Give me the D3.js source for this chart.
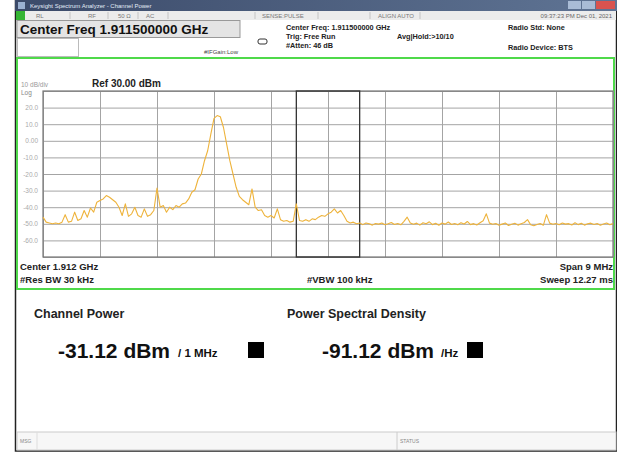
<!DOCTYPE html>
<html>
<head>
<meta charset="utf-8">
<script src="https://cdn.jsdelivr.net/npm/d3@7"></script>
<style>
  body { margin: 0; background: #fff; }
  text { font-family: "Liberation Sans", Arial, sans-serif; }
</style>
</head>
<body>
<svg id="chart"></svg>
<script>
// sweep: 1907 MHz .. 1916 MHz, one reading every 0.05 MHz
const startMHz = 1907;
const stepMHz = 0.05;
const traceDbm = [
  -46, -49, -49.5, -50, -49.5, -50, -49,
  -44.5, -49, -48.5, -43, -48, -47,
  -42, -46, -40.5, -43, -37,
  -36, -35, -33, -34, -35.5, -37, -40,
  -45, -38, -45.5, -44, -40, -45, -46, -41, -45.5, -44.5, -42, -28.5,
  -40, -39, -43, -40, -41.5, -39, -40, -38, -37.5,
  -35, -31, -29.5, -23, -20, -12, -6, 4, 13.5, 15.2, 14.5, 8, -2, -12, -20, -28, -33.5, -35.5, -37, -38.5,
  -29, -40, -42, -41.5, -45, -46, -45, -46.5, -41, -47.5, -48.5, -48, -49, -48.5,
  -38, -48, -48.5, -47.5, -48.5, -47, -47.5, -46, -45, -45.5, -44, -43, -41, -43.5, -42, -45,
  -48.5, -49.5, -49, -50, -49.5,
  -50.5, -49.5, -50, -50.8, -49.8, -50.2, -49.5, -50.6, -50, -49.2,
  -50.4, -49.8, -50.6, -48.5, -46, -49.5, -50.3, -49.6, -50.8, -49.4,
  -50, -48.8, -50.5, -49.7, -50.9, -49.5, -50.2, -48.9, -50.4, -49.8,
  -50.6, -49.3, -50.1, -48.6, -50.5, -49.9, -50.7, -49.4, -48.2, -44,
  -49.6, -50.3, -49.8, -50.9, -50.2, -49.5, -51, -50.3, -49.7, -50.8,
  -50, -49.2, -47.5, -50.6, -51.2, -50.4, -49.8, -50.9, -44.5, -49.6,
  -50.3, -49.8, -50.6, -49.5, -50.2, -49.9, -50.7, -49.4, -50.5, -49.7,
  -50.8, -50, -49.6, -50.4, -49.8, -50.9, -50.1, -49.5, -50.6, -49.9
];
const freqGrid = [1907, 1907.9, 1908.8, 1909.7, 1910.6, 1911.5, 1912.4, 1913.3, 1914.2, 1915.1, 1916];
const levelGrid = [30, 20, 10, 0, -10, -20, -30, -40, -50, -60, -70];
const levelLabels = ["20.0", "10.0", "0.00", "-10.0", "-20.0", "-30.0", "-40.0", "-50.0", "-60.0"];
const channelMHz = [1911.0, 1912.0];
const toolbarItems = [["RL", 36], ["RF", 88], ["50 Ω", 118], ["AC", 146], ["SENSE:PULSE", 262], ["ALIGN AUTO", 378]];

const svg = d3.select('#chart').attr('width', 617).attr('height', 452);
const margin = { top: 91, right: 4, bottom: 195, left: 43 };
const width = 617 - margin.left - margin.right;
const height = 452 - margin.top - margin.bottom;

const x = d3.scaleLinear().domain([1907, 1916]).range([margin.left, margin.left + width]);
const y = d3.scaleLinear().domain([-70, 30]).range([margin.top + height, margin.top]);

// window frame
svg.append('rect').attr('x', 15.5).attr('y', 0).attr('width', 601).attr('height', 451)
  .attr('fill', '#fff').attr('stroke', '#222').attr('stroke-width', 1.5);

// title bar
const grad = svg.append('defs').append('linearGradient').attr('id', 'tb').attr('x1', 0).attr('x2', 1);
grad.append('stop').attr('offset', 0).attr('stop-color', '#3b4a69');
grad.append('stop').attr('offset', 1).attr('stop-color', '#5f7494');
svg.append('rect').attr('x', 15).attr('y', 0).attr('width', 602).attr('height', 11).attr('fill', 'url(#tb)');
svg.append('rect').attr('x', 18).attr('y', 2).attr('width', 7).attr('height', 7).attr('fill', '#9ab0d0');
svg.append('text').attr('x', 30).attr('y', 8).attr('font-size', 6).attr('fill', '#e4ecf8')
  .text('Keysight Spectrum Analyzer - Channel Power');
svg.append('rect').attr('x', 568).attr('y', 1).attr('width', 13).attr('height', 8).attr('fill', '#a9bcd6');
svg.append('rect').attr('x', 582).attr('y', 1).attr('width', 13).attr('height', 8).attr('fill', '#a9bcd6');
svg.append('rect').attr('x', 596).attr('y', 1).attr('width', 19).attr('height', 8).attr('fill', '#d9534f');

// toolbar row
svg.append('rect').attr('x', 16).attr('y', 11).attr('width', 600).attr('height', 9).attr('fill', '#ececec');
svg.append('rect').attr('x', 16).attr('y', 11).attr('width', 9).attr('height', 9).attr('fill', '#35b534');
toolbarItems.forEach(([t, px]) => {
  svg.append('text').attr('x', px).attr('y', 18).attr('font-size', 6).attr('fill', '#777').text(t);
});
[70, 108, 138, 168, 255, 318, 370, 420].forEach(px => {
  svg.append('line').attr('x1', px).attr('x2', px).attr('y1', 12).attr('y2', 19).attr('stroke', '#c4c4c4');
});
svg.append('text').attr('x', 612).attr('y', 18).attr('font-size', 6).attr('fill', '#666')
  .attr('text-anchor', 'end').text('09:37:23 PM Dec 01, 2021');

// center freq box
svg.append('rect').attr('x', 17).attr('y', 20.5).attr('width', 223).attr('height', 17)
  .attr('fill', '#e4e4e4').attr('stroke', '#999');
svg.append('text').attr('x', 20).attr('y', 34).attr('font-size', 13.5).attr('font-weight', 'bold')
  .attr('fill', '#111').text('Center Freq 1.911500000 GHz');
svg.append('rect').attr('x', 17.5).attr('y', 38.5).attr('width', 61).attr('height', 18)
  .attr('fill', '#fff').attr('stroke', '#bbb');
svg.append('text').attr('x', 204).attr('y', 54).attr('font-size', 6).attr('fill', '#444').text('#IFGain:Low');
svg.append('rect').attr('x', 258).attr('y', 39).attr('width', 9).attr('height', 5).attr('rx', 2)
  .attr('fill', 'none').attr('stroke', '#333');

const info = [
  ['Center Freq: 1.911500000 GHz', 286, 30],
  ['Trig: Free Run', 286, 39],
  ['#Atten: 46 dB', 286, 48],
  ['Avg|Hold:>10/10', 397, 39],
  ['Radio Std: None', 508, 30],
  ['Radio Device: BTS', 508, 50]
];
info.forEach(([t, px, py]) => {
  svg.append('text').attr('x', px).attr('y', py).attr('font-size', 7.3).attr('font-weight', 'bold')
    .attr('fill', '#222').text(t);
});

// green plot frame
svg.append('rect').attr('x', 17).attr('y', 58).attr('width', 597).attr('height', 231)
  .attr('fill', '#fff').attr('stroke', '#4fd94a').attr('stroke-width', 2);

svg.append('text').attr('x', 21).attr('y', 87).attr('font-size', 6.5).attr('fill', '#999').text('10 dB/div');
svg.append('text').attr('x', 21).attr('y', 95).attr('font-size', 6.5).attr('fill', '#888').text('Log');
svg.append('text').attr('x', 92).attr('y', 87).attr('font-size', 10).attr('font-weight', 'bold')
  .attr('fill', '#222').text('Ref 30.00 dBm');

// grid
svg.append('g')
  .attr('transform', `translate(0,${margin.top + height})`)
  .call(d3.axisBottom(x).tickValues(freqGrid).tickSize(-height).tickFormat(''))
  .call(g => g.select('.domain').remove())
  .call(g => g.selectAll('line').attr('stroke', '#a4a4a4'));
svg.append('g')
  .attr('transform', `translate(${margin.left},0)`)
  .call(d3.axisLeft(y).tickValues(levelGrid).tickSize(-width).tickFormat(''))
  .call(g => g.select('.domain').remove())
  .call(g => g.selectAll('line').attr('stroke', '#a4a4a4'));

// level labels
svg.append('g')
  .attr('transform', `translate(${margin.left - 2},0)`)
  .call(d3.axisLeft(y).tickValues(levelGrid.slice(1, 10)).tickSize(0)
    .tickFormat((d, i) => levelLabels[i]))
  .call(g => g.select('.domain').remove())
  .call(g => g.selectAll('text').attr('font-size', 6.5).attr('fill', '#aaa')
    .attr('font-family', '"Liberation Sans", Arial, sans-serif'));

// plot border
svg.append('rect').attr('x', margin.left).attr('y', margin.top).attr('width', width).attr('height', height)
  .attr('fill', 'none').attr('stroke', '#777').attr('stroke-width', 1.2);

// channel box
svg.append('rect').attr('x', x(channelMHz[0])).attr('y', margin.top)
  .attr('width', x(channelMHz[1]) - x(channelMHz[0])).attr('height', height)
  .attr('fill', 'none').attr('stroke', '#333').attr('stroke-width', 1.3);

// trace
const line = d3.line()
  .x((d, i) => x(startMHz + i * stepMHz))
  .y(d => y(d));
svg.append('path')
  .datum(traceDbm)
  .attr('fill', 'none')
  .attr('stroke', '#eeb33b')
  .attr('stroke-width', 1.1)
  .attr('stroke-linejoin', 'round')
  .attr('d', line);

// bottom annotations of plot
const foot = [
  ['Center  1.912 GHz', 20, 270, 'start'],
  ['#Res BW  30 kHz', 20, 283, 'start'],
  ['#VBW  100 kHz', 307, 283, 'start'],
  ['Span 9 MHz', 613, 270, 'end'],
  ['Sweep  12.27 ms', 613, 283, 'end']
];
foot.forEach(([t, px, py, a]) => {
  svg.append('text').attr('x', px).attr('y', py).attr('font-size', 9.5).attr('font-weight', 'bold')
    .attr('fill', '#222').attr('text-anchor', a).text(t);
});

// results panel
svg.append('text').attr('x', 34).attr('y', 318).attr('font-size', 12.5).attr('font-weight', 'bold')
  .attr('fill', '#222').text('Channel Power');
svg.append('text').attr('x', 287).attr('y', 318).attr('font-size', 12.5).attr('font-weight', 'bold')
  .attr('fill', '#222').text('Power Spectral Density');
svg.append('text').attr('x', 58).attr('y', 358).attr('font-size', 21).attr('font-weight', 'bold')
  .attr('fill', '#111').text('-31.12 dBm');
svg.append('text').attr('x', 178).attr('y', 357).attr('font-size', 11.5).attr('font-weight', 'bold')
  .attr('fill', '#111').text('/ 1 MHz');
svg.append('rect').attr('x', 248).attr('y', 342).attr('width', 16).attr('height', 16).attr('fill', '#000');
svg.append('text').attr('x', 322).attr('y', 358).attr('font-size', 21).attr('font-weight', 'bold')
  .attr('fill', '#111').text('-91.12 dBm');
svg.append('text').attr('x', 441).attr('y', 357).attr('font-size', 11.5).attr('font-weight', 'bold')
  .attr('fill', '#111').text('/Hz');
svg.append('rect').attr('x', 467).attr('y', 342).attr('width', 16).attr('height', 16).attr('fill', '#000');

// status bar
svg.append('rect').attr('x', 17).attr('y', 432).attr('width', 599).attr('height', 18)
  .attr('fill', '#f7f7f7').attr('stroke', '#ccc');
svg.append('line').attr('x1', 397).attr('x2', 397).attr('y1', 432).attr('y2', 450).attr('stroke', '#ccc');
svg.append('line').attr('x1', 37).attr('x2', 37).attr('y1', 432).attr('y2', 450).attr('stroke', '#ddd');
svg.append('text').attr('x', 20).attr('y', 443).attr('font-size', 5).attr('fill', '#888').text('MSG');
svg.append('text').attr('x', 400).attr('y', 443).attr('font-size', 5).attr('fill', '#888').text('STATUS');
</script>
</body>
</html>
